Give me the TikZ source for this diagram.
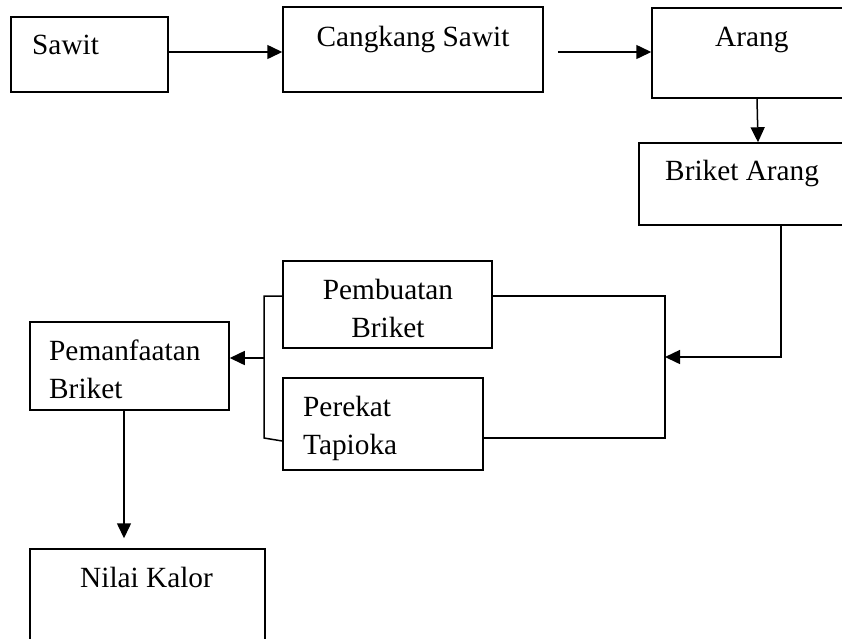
\documentclass[tikz,border=0pt]{standalone}
\usepackage{fontspec}
\setmainfont{Liberation Serif}
\usepackage{tikz}
\usetikzlibrary{arrows.meta}

\begin{document}
\begin{tikzpicture}[x=1pt,y=-1pt]
      \tikzstyle{box}=[rectangle,draw=black,line width=1.5pt,inner sep=0pt]
      \tikzstyle{lbl}=[inner sep=0pt,font=\fontsize{29.3}{38}\selectfont]
      \tikzstyle{link}=[line width=1.5pt]
      \tikzstyle{arr}=[link,-{Triangle[length=15pt,width=14pt]}]
      \clip (0,0) rectangle (842,638);
      \node[box,minimum width=157pt,minimum height=75pt] (sawit) at (89.5,54.5) {};
      \node[box,minimum width=260pt,minimum height=85pt] (cangkang) at (413,49.5) {};
      \node[box,minimum width=210pt,minimum height=90pt] (arang) at (757,53) {};
      \node[box,minimum width=238pt,minimum height=82pt] (briketarang) at (758,184) {};
      \node[box,minimum width=209pt,minimum height=87pt] (pembuatan) at (387.5,304.5) {};
      \node[box,minimum width=200pt,minimum height=92pt] (perekat) at (383,424) {};
      \node[box,minimum width=199pt,minimum height=88pt] (pemanfaatan) at (129.5,366) {};
      \node[box,minimum width=235pt,minimum height=111pt] (nilai) at (147.5,604.5) {};
      % teks di dalam kotak
      \node[lbl,anchor=base west] (sawitlbl) at (32,54) {Sawit};
      \node[lbl,anchor=base] (cangkanglbl) at (413,46) {Cangkang Sawit};
      \node[lbl,anchor=base west] (aranglbl) at (715,46) {Arang};
      \node[lbl,anchor=base west] (briketaranglbl) at (665,180) {Briket Arang};
      \node[lbl,anchor=base,align=center] (pembuatanlbl) at (388,337) {Pembuatan\\Briket};
      \node[lbl,anchor=base west,align=left] (perekatlbl) at (303,454) {Perekat\\Tapioka};
      \node[lbl,anchor=base west,align=left] (pemanfaatanlbl) at (49,398) {Pemanfaatan\\Briket};
      \node[lbl,anchor=base west] (nilailbl) at (80,587) {Nilai Kalor};
      \coordinate (merge) at (665,357);
      \coordinate (split) at (264,358);
      \coordinate (bl) at (264,438);
      % alur
      \draw[arr] ([yshift=2.5pt]sawit.east) -- ([yshift=2.5pt]sawit.east -| cangkang.west);
      \draw[arr] ([xshift=14pt,yshift=-2.5pt]cangkang.east) -- ([yshift=1pt]arang.west);
      \draw[arr] (arang.south) -- (briketarang.north);
      \draw[arr] ([xshift=23pt]briketarang.south) |- (merge);
      \draw[link] ([yshift=8.5pt]pembuatan.east) -| (merge) |- ([yshift=-14pt]perekat.east);
      \draw[link] ([yshift=8.5pt]pembuatan.west) -| (bl) -- ([yshift=-17pt]perekat.west);
      \draw[arr] (split) -- (split -| pemanfaatan.east);
      \draw[arr,shorten >=10pt] ([xshift=-5.5pt]pemanfaatan.south) -- ([xshift=-5.5pt]pemanfaatan.south |- nilai.north);
    \end{tikzpicture}
\end{document}
